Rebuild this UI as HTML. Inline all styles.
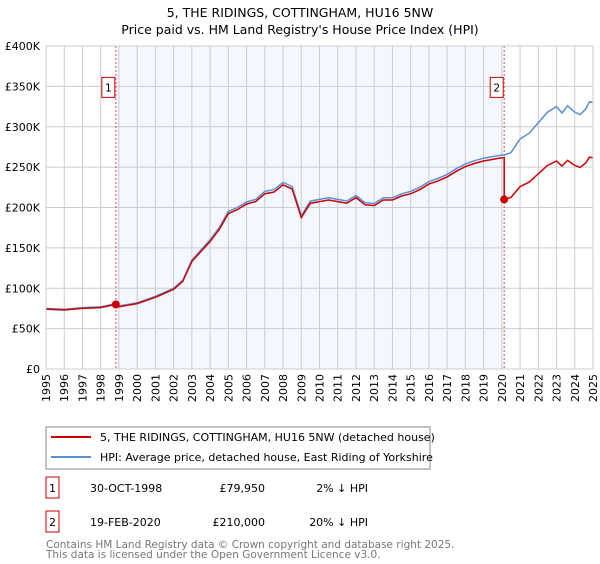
<!DOCTYPE html>
<html><head><meta charset="utf-8"><style>
body{margin:0;background:#fff;font-family:"DejaVu Sans","Liberation Sans",sans-serif;}
svg text{font-family:"DejaVu Sans","Liberation Sans",sans-serif;}
</style></head><body>
<svg id="c" width="600" height="560" viewBox="0 0 600 560" xmlns="http://www.w3.org/2000/svg">
<text x="300" y="17" text-anchor="middle" font-size="12.5">5, THE RIDINGS, COTTINGHAM, HU16 5NW</text>
<text x="300" y="34" text-anchor="middle" font-size="12.5">Price paid vs. HM Land Registry's House Price Index (HPI)</text>
<g id="plot"></g>
<g>
<rect x="46" y="427" width="384" height="42" fill="#fff" stroke="#888"/>
<line x1="51" y1="437" x2="91" y2="437" stroke="#cc0000" stroke-width="2"/>
<text x="100" y="441" font-size="11">5, THE RIDINGS, COTTINGHAM, HU16 5NW (detached house)</text>
<line x1="51" y1="457" x2="91" y2="457" stroke="#5b8fd6" stroke-width="2"/>
<text x="100" y="461" font-size="11">HPI: Average price, detached house, East Riding of Yorkshire</text>
</g>
<g font-size="11">
<rect x="46" y="477" width="13" height="21" fill="#fff" stroke="#cc0000"/>
<text x="52.5" y="492" text-anchor="middle">1</text>
<text x="90" y="492">30-OCT-1998</text><text x="265" y="492" text-anchor="end">£79,950</text><text x="368" y="492" text-anchor="end">2% ↓ HPI</text>
<rect x="46" y="511" width="13" height="21" fill="#fff" stroke="#cc0000"/>
<text x="52.5" y="526" text-anchor="middle">2</text>
<text x="90" y="526">19-FEB-2020</text><text x="265" y="526" text-anchor="end">£210,000</text><text x="368" y="526" text-anchor="end">20% ↓ HPI</text>
</g>
<text x="46" y="548" font-size="10.5" fill="#777">Contains HM Land Registry data © Crown copyright and database right 2025.</text>
<text x="46" y="558" font-size="10.5" fill="#777">This data is licensed under the Open Government Licence v3.0.</text>
</svg>
<script>
const hpiYears=[1995,1996,1997,1998,1998.83,1999,2000,2001,2002,2002.5,2003,2004,2004.5,2005,2005.5,2006,2006.5,2007,2007.5,2008,2008.5,2009,2009.5,2010,2010.5,2011,2011.5,2012,2012.5,2013,2013.5,2014,2014.5,2015,2015.5,2016,2016.5,2017,2017.5,2018,2018.5,2019,2019.5,2020,2020.13,2020.5,2021,2021.5,2022,2022.5,2023,2023.3,2023.6,2024,2024.3,2024.6,2024.8,2025];
const hpiValues=[75,74,76,77,81,78,82,90,100,110,135,160,175,195,200,207,210,220,222,231,226,190,208,210,212,210,208,215,206,205,212,212,217,220,225,232,236,241,248,254,258,261,263,265,265,268,285,292,305,318,325,317,326,318,315,322,331,330];
const saleYears=[1998.83,2020.13];
const salePrices=[79.95,210];
const saleLabels=["1","2"];
const yTicks=[0,50,100,150,200,250,300,350,400];
const yTickLabels=["£0","£50K","£100K","£150K","£200K","£250K","£300K","£350K","£400K"];
const xTicks=[1995,1996,1997,1998,1999,2000,2001,2002,2003,2004,2005,2006,2007,2008,2009,2010,2011,2012,2013,2014,2015,2016,2017,2018,2019,2020,2021,2022,2023,2024,2025];

const L=46,R=593,T=46,B=369;
const x=v=>L+(v-1995)/30*(R-L);
const y=v=>B-v/400*(B-T);
const NS="http://www.w3.org/2000/svg";
const g=document.getElementById('plot');
function mk(t,a,p){const e=document.createElementNS(NS,t);for(const k in a)e.setAttribute(k,a[k]);(p||g).appendChild(e);return e;}
function hpiAt(t){for(let i=1;i<hpiYears.length;i++){if(t<=hpiYears[i]){const f=(t-hpiYears[i-1])/(hpiYears[i]-hpiYears[i-1]);return hpiValues[i-1]+f*(hpiValues[i]-hpiValues[i-1]);}}return hpiValues[hpiValues.length-1];}

let r=mk('rect',{x:L,y:T,width:R-L,height:B-T,fill:'#fff'});

let sh=mk('rect',{x:x(saleYears[0]),y:T,width:x(saleYears[1])-x(saleYears[0]),height:B-T,fill:'#f4f7ff'});

xTicks.forEach((t,i)=>{
 const l=mk('line',{x1:x(t),x2:x(t),y1:T,y2:B,stroke:'#ccc','stroke-width':1});
 
 const tx=mk('text',{x:0,y:0,'font-size':11,'text-anchor':'end',transform:`translate(${x(t)+4},${B+5}) rotate(-90)`});
 tx.textContent=t;
});
yTicks.forEach((t,i)=>{
 const l=mk('line',{x1:L,x2:R,y1:y(t),y2:y(t),stroke:'#ccc','stroke-width':1});
 
 const tx=mk('text',{x:L-6,y:y(t)+4,'font-size':11,'text-anchor':'end'});
 tx.textContent=yTickLabels[i];
});
saleYears.forEach((s,i)=>{
 const l=mk('line',{x1:x(s),x2:x(s),y1:T,y2:B,stroke:'#e05050','stroke-dasharray':'2,2','stroke-width':1});
 
 const b=mk('rect',{x:x(s)-14,y:y(350)-9,width:13,height:20,fill:'#fff',stroke:'#cc0000'});
 
 const t=mk('text',{x:x(s)-7.5,y:y(350)+5,'font-size':11,'text-anchor':'middle'});
 t.textContent=saleLabels[i];
});
let d='';hpiYears.forEach((t,i)=>{d+=(i?'L':'M')+x(t).toFixed(1)+','+y(hpiValues[i]).toFixed(1);});
let hp=mk('path',{d:d,fill:'none',stroke:'#5b8fd6','stroke-width':1.5});

const r1=salePrices[0]/hpiAt(saleYears[0]),r2=salePrices[1]/hpiAt(saleYears[1]);
let pd='',first=true;
hpiYears.forEach((t,i)=>{
 const ratio=t<saleYears[1]?r1:r2;
 if(t>=saleYears[1]&&pd.indexOf('J')<0){pd+='L'+x(saleYears[1]).toFixed(1)+','+y(hpiAt(saleYears[1])*r1).toFixed(1)+'J';}
 pd+=(first?'M':'L')+x(t).toFixed(1)+','+y(hpiValues[i]*ratio).toFixed(1);first=false;
});
pd=pd.replace('J','');
let pp=mk('path',{d:pd,fill:'none',stroke:'#cc0000','stroke-width':1.5});

saleYears.forEach((s,i)=>{
 const c=mk('circle',{cx:x(s),cy:y(salePrices[i]),r:4,fill:'#cc0000'});
 
});
let ax=mk('rect',{x:L,y:T,width:R-L,height:B-T,fill:'none',stroke:'#ccc'});

</script>
</body></html>
